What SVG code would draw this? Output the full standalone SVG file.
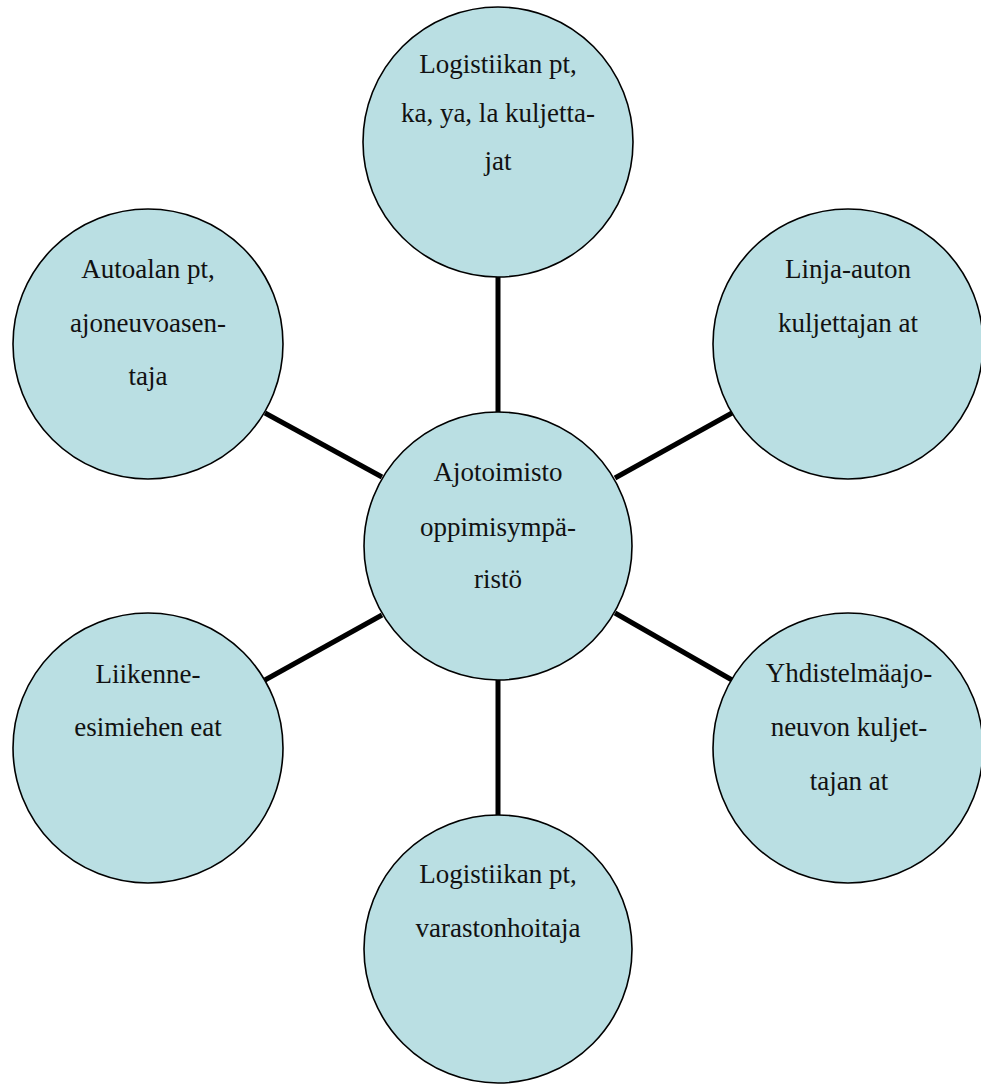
<svg xmlns="http://www.w3.org/2000/svg" width="981" height="1084" viewBox="0 0 981 1084">
<style>
.node circle{fill:#BADFE3;stroke:#000;stroke-width:1.6}
.node text{font-family:"Liberation Serif","Times New Roman",serif;font-size:27px;fill:#111;text-anchor:middle}
.conn line{stroke:#000;stroke-width:5}
</style>
<rect width="981" height="1084" fill="#fff"/>
<g id="connectors" class="conn">
<line x1="498" y1="277" x2="498" y2="412"/>
<line x1="615" y1="478" x2="732" y2="413"/>
<line x1="265" y1="413" x2="382" y2="477"/>
<line x1="265" y1="680" x2="382" y2="615"/>
<line x1="615" y1="613" x2="732" y2="680"/>
<line x1="498" y1="680" x2="498" y2="815"/>
</g>
<g id="n-top" class="node">
<circle cx="498" cy="142" r="135"/>
<text x="498" y="73">Logistiikan pt,</text>
<text x="498" y="122">ka, ya, la kuljetta-</text>
<text x="498" y="170">jat</text>
</g>
<g id="n-topright" class="node">
<circle cx="848" cy="344" r="135"/>
<text x="848" y="278">Linja-auton</text>
<text x="848" y="332">kuljettajan at</text>
</g>
<g id="n-topleft" class="node">
<circle cx="148" cy="344" r="135"/>
<text x="148" y="278">Autoalan pt,</text>
<text x="148" y="332">ajoneuvoasen-</text>
<text x="148" y="385">taja</text>
</g>
<g id="n-center" class="node">
<circle cx="498" cy="546" r="134"/>
<text x="498" y="481">Ajotoimisto</text>
<text x="498" y="536">oppimisympä-</text>
<text x="498" y="588">ristö</text>
</g>
<g id="n-bottomleft" class="node">
<circle cx="148" cy="748" r="135"/>
<text x="148" y="683">Liikenne-</text>
<text x="148" y="736">esimiehen eat</text>
</g>
<g id="n-bottomright" class="node">
<circle cx="848" cy="748" r="135"/>
<text x="849" y="682">Yhdistelmäajo-</text>
<text x="849" y="736">neuvon kuljet-</text>
<text x="849" y="790">tajan at</text>
</g>
<g id="n-bottom" class="node">
<circle cx="498" cy="949" r="134"/>
<text x="498" y="883">Logistiikan pt,</text>
<text x="498" y="937">varastonhoitaja</text>
</g>
</svg>
